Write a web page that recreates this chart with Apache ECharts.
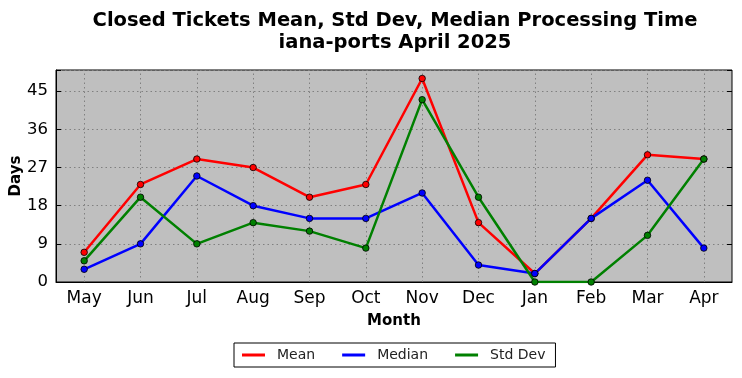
<!DOCTYPE html>
<html><head><meta charset="utf-8">
<script src="https://cdn.jsdelivr.net/npm/echarts@6/dist/echarts.min.js"></script>
<style>html,body{margin:0;padding:0;background:#fff}#c{width:742px;height:378px}</style>
</head><body><div id="c"></div>
<script>
const months = ['May','Jun','Jul','Aug','Sep','Oct','Nov','Dec','Jan','Feb','Mar','Apr'];
const meanVals = [7,23,29,27,20,23,48,14,2,15,30,29];
const medianVals = [3,9,25,18,15,15,21,4,2,15,24,8];
const stdVals = [5,20,9,14,12,8,43,20,0,0,11,29];
const yTicks = [0,9,18,27,36,45];

const chart = echarts.init(document.getElementById('c'));
const font = 'DejaVu Sans';
const gridLine = {color:'#808080', type:[1.5,3], width:1};
function mk(name, data, color){
  return {name, type:'line', data, xAxisIndex:0, yAxisIndex:0,
    symbol:'circle', symbolSize:6.5, showSymbol:true,
    lineStyle:{color, width:2.5}, itemStyle:{color, borderColor:'#000', borderWidth:0.8},
    emphasis:{disabled:true}, z:3};
}
const series = [mk('Mean', meanVals, '#ff0000'), mk('Median', medianVals, '#0000ff'), mk('Std Dev', stdVals, '#008000')];
series[0].markLine = {silent:true, symbol:'none', animation:false, z:1,
  label:{show:false}, lineStyle:gridLine, emphasis:{disabled:true},
  data: months.map(m=>({xAxis:m}))};
chart.setOption({
  animation:false,
  textStyle:{fontFamily:font},
  title:{text:'Closed Tickets Mean, Std Dev, Median Processing Time\niana-ports April 2025',
    left:390, textAlign:'center', top:5,
    textStyle:{fontFamily:font, fontSize:19.5, fontWeight:'bold', color:'#000', lineHeight:22}},
  grid:{left:56, right:10, top:70, bottom:96, outerBoundsMode:'none', containLabel:false,
    backgroundColor:'#bfbfbf', show:true, borderColor:'#000', borderWidth:1},
  legend:{left:234, top:343, width:321, height:25, itemWidth:23, itemHeight:3, itemGap:27,
    icon:'rect', borderColor:'#000', borderWidth:1, borderRadius:0, padding:[5,10,5,8],
    itemStyle:{borderWidth:0},
    textStyle:{fontFamily:font, fontSize:14, color:'#222', padding:[0,0,0,7]},
    data:['Mean','Median','Std Dev']},
  xAxis:[{type:'category', data:months, boundaryGap:true,
    name:'Month', nameLocation:'middle', nameGap:32, nameMoveOverlap:false,
    nameTextStyle:{fontFamily:font, fontSize:15, fontWeight:'bold', color:'#000'},
    axisLine:{lineStyle:{color:'#000'}},
    axisTick:{inside:true, alignWithLabel:true, length:5, lineStyle:{color:'#000'}},
    axisLabel:{fontFamily:font, fontSize:17, color:'#000', margin:8},
    splitLine:{show:false}},
   {type:'category', data:months, boundaryGap:true, position:'top',
    axisLine:{show:false}, axisTick:{inside:true, alignWithLabel:true, length:5, lineStyle:{color:'#000'}},
    axisLabel:{show:false}, splitLine:{show:false}}],
  yAxis:[{type:'value', min:0, max:50, interval:9,
    name:'Days', nameLocation:'middle', nameGap:32, nameMoveOverlap:false,
    nameTextStyle:{fontFamily:font, fontSize:15, fontWeight:'bold', color:'#000'},
    axisLine:{show:true, lineStyle:{color:'#000'}},
    axisTick:{show:true, inside:true, length:5, lineStyle:{color:'#000'}},
    axisLabel:{fontFamily:font, fontSize:16.5, color:'#000', margin:8,
      formatter:v=>yTicks.includes(v)?String(v):''},
    splitLine:{show:true, lineStyle:gridLine}},
   {type:'value', min:0, max:50, interval:9, position:'right',
    axisLine:{show:false}, axisTick:{show:true, inside:true, length:5, lineStyle:{color:'#000'}},
    axisLabel:{show:false}, splitLine:{show:false}}],
  series
});
</script></body></html>
